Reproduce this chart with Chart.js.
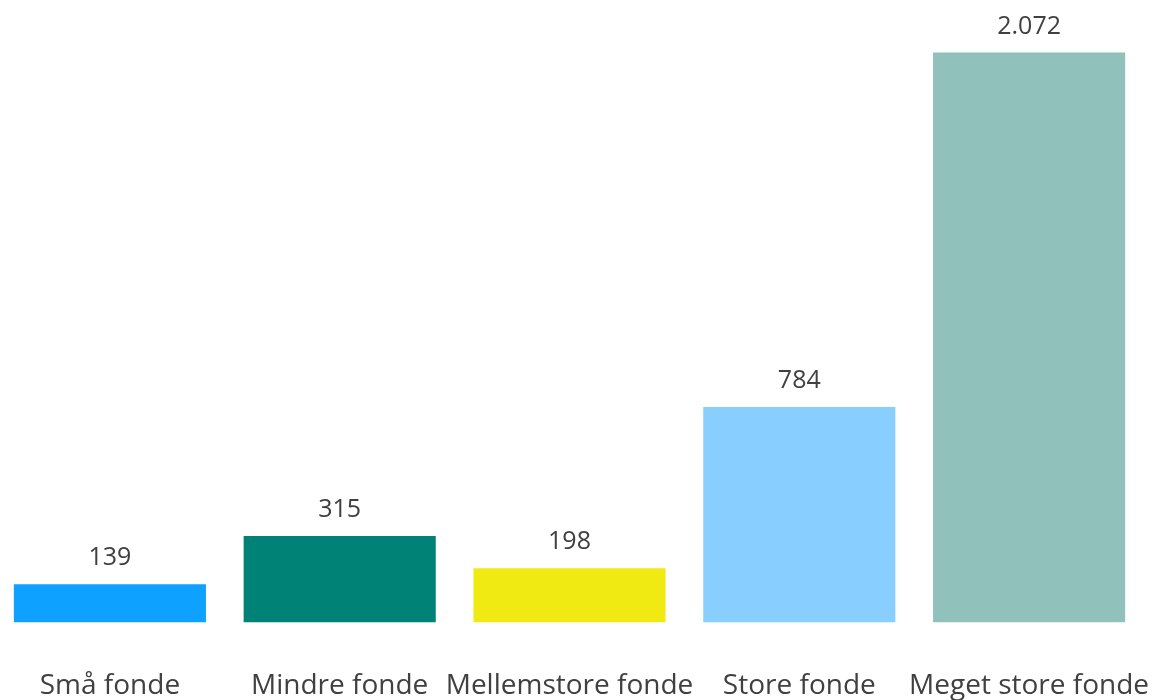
<!DOCTYPE html>
<html>
<head>
<meta charset="utf-8">
<script src="https://cdn.jsdelivr.net/npm/chart.js@4"></script>
<style>
  html, body { margin:0; padding:0; background:#fff; overflow:hidden; width:1164px; height:700px; }
  #wrap { position:absolute; left:-5px; top:0; width:1169px; height:700px; }
</style>
</head>
<body>
<div id="wrap"><canvas id="c"></canvas></div>
<script>
const categories = ["Små fonde", "Mindre fonde", "Mellemstore fonde", "Store fonde", "Meget store fonde"];
const values = [139, 315, 198, 784, 2072];
const barColors = ["#0EA1FF", "#008276", "#F0EA12", "#88CFFF", "#91C1BB"];

function fmtDa(v) {
  return String(v).replace(/\B(?=(\d{3})+(?!\d))/g, ".");
}

const valueLabels = {
  id: 'valueLabels',
  afterDatasetsDraw(chart) {
    const ctx = chart.ctx;
    const meta = chart.getDatasetMeta(0);
    ctx.save();
    ctx.font = '25px "Open Sans"';
    ctx.fillStyle = '#404040';
    ctx.textAlign = 'center';
    ctx.textBaseline = 'alphabetic';
    meta.data.forEach((bar, i) => {
      ctx.fillText(fmtDa(values[i]), bar.x, bar.y - 19);
    });
    ctx.restore();
  }
};

new Chart(document.getElementById('c'), {
  type: 'bar',
  data: {
    labels: categories,
    datasets: [{ data: values, backgroundColor: barColors, borderWidth: 0 }]
  },
  options: {
    responsive: true,
    maintainAspectRatio: false,
    animation: false,
    layout: { padding: { top: 0, bottom: 0, left: 0, right: 20 } },
    plugins: { legend: { display: false }, tooltip: { enabled: false } },
    scales: {
      x: {
        grid: { display: false, drawTicks: false },
        border: { display: false },
        ticks: {
          color: '#404040',
          font: { family: '"Open Sans"', size: 28 },
          padding: 47,
          maxRotation: 0,
          minRotation: 0,
          autoSkip: false
        },
        afterFit(scale) {
          scale.paddingLeft = 0;
          scale.paddingRight = 0;
          scale.height = 77.4;
        }
      },
      y: {
        display: false,
        min: 0,
        max: 2263
      }
    },
    datasets: { bar: { categoryPercentage: 1, barPercentage: 0.836 } }
  },
  plugins: [valueLabels]
});
</script>
</body>
</html>
